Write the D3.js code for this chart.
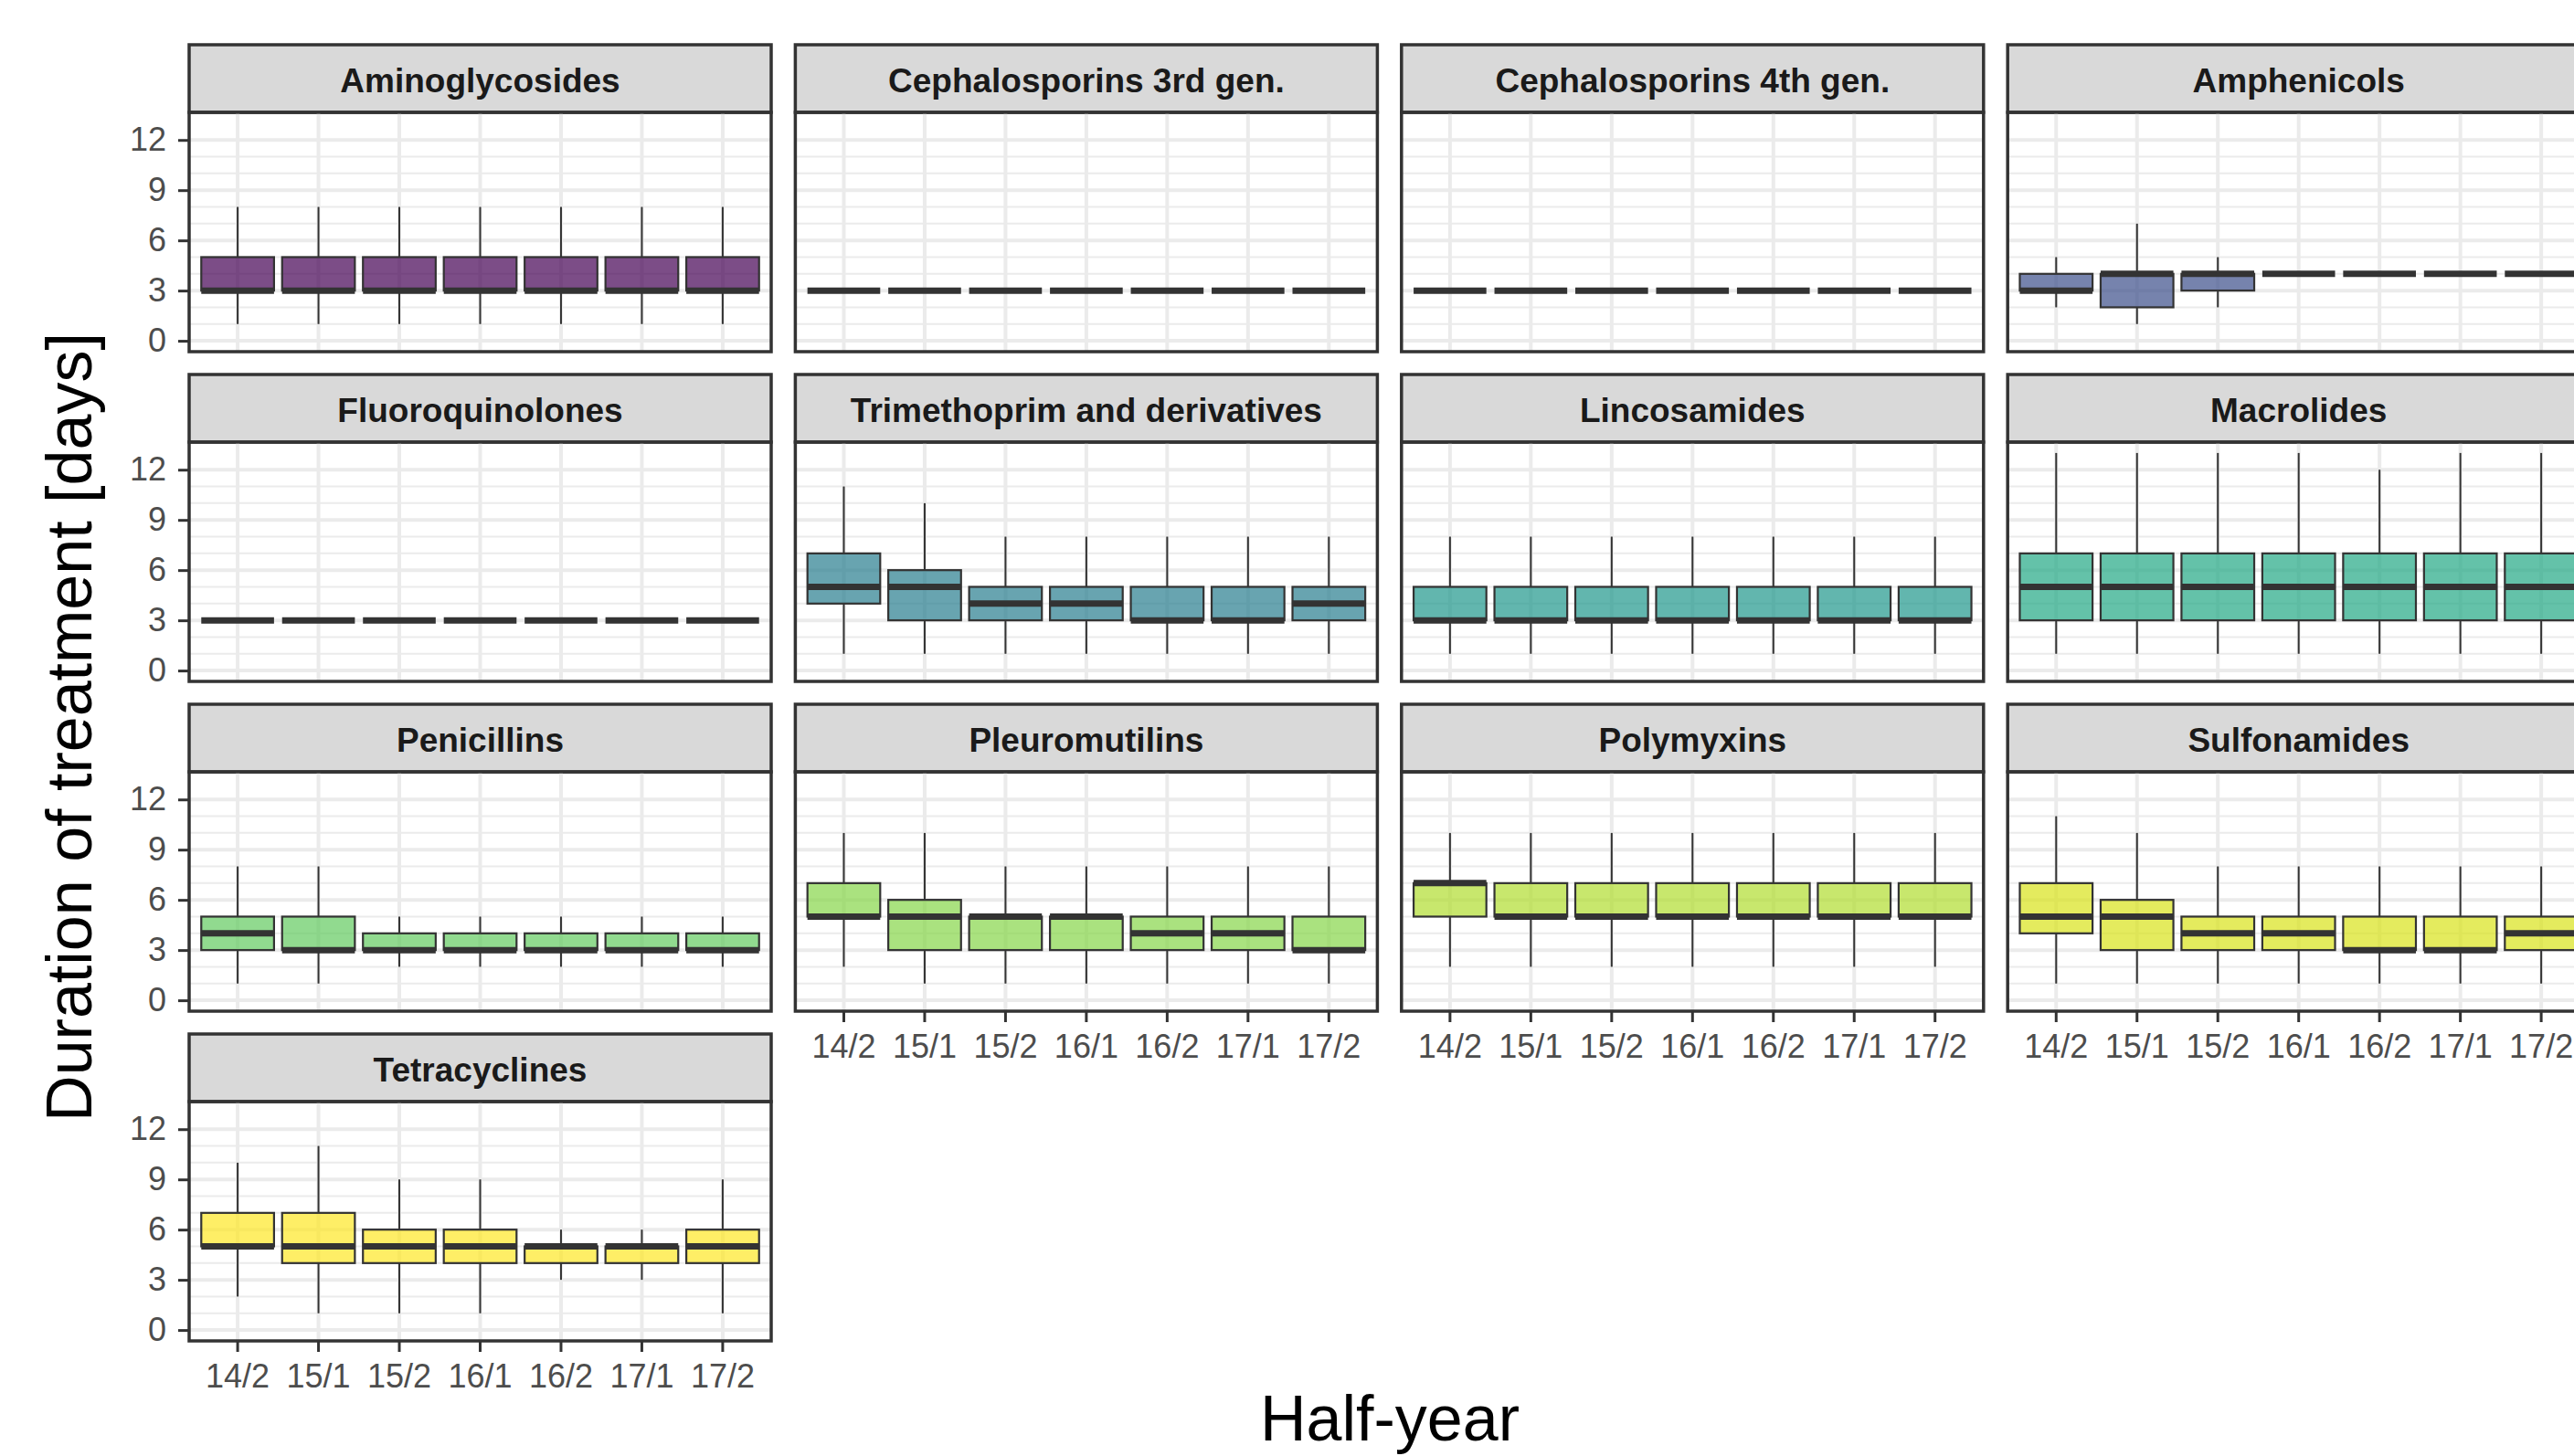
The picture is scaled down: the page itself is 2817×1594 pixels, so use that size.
<!DOCTYPE html>
<html>
<head>
<meta charset="utf-8">
<script src="https://cdn.jsdelivr.net/npm/d3@7"></script>
<style>
  html, body { margin: 0; padding: 0; background: #fff; overflow: hidden; }
  svg { display: block; font-family: "Liberation Sans", Arial, sans-serif; }
</style>
</head>
<body>
<div id="chart"></div>
<script>
const halfYears = ['14/2', '15/1', '15/2', '16/1', '16/2', '17/1', '17/2'];

const drugClasses = [
    'Aminoglycosides', 'Cephalosporins 3rd gen.', 'Cephalosporins 4th gen.', 'Amphenicols',
    'Fluoroquinolones', 'Trimethoprim and derivatives', 'Lincosamides', 'Macrolides',
    'Penicillins', 'Pleuromutilins', 'Polymyxins', 'Sulfonamides', 'Tetracyclines'
];

const yTicks = [0, 3, 6, 9, 12];
const yMinorTicks = [1, 2, 4, 5, 7, 8, 10, 11];

// one row per half-year: [lower whisker, q1, median, q3, upper whisker]
const aminoglycosides = [[1, 3, 3, 5, 8], [1, 3, 3, 5, 8], [1, 3, 3, 5, 8], [1, 3, 3, 5, 8], [1, 3, 3, 5, 8], [1, 3, 3, 5, 8], [1, 3, 3, 5, 8]];
const cephalosporins3rd = [[3, 3, 3, 3, 3], [3, 3, 3, 3, 3], [3, 3, 3, 3, 3], [3, 3, 3, 3, 3], [3, 3, 3, 3, 3], [3, 3, 3, 3, 3], [3, 3, 3, 3, 3]];
const cephalosporins4th = [[3, 3, 3, 3, 3], [3, 3, 3, 3, 3], [3, 3, 3, 3, 3], [3, 3, 3, 3, 3], [3, 3, 3, 3, 3], [3, 3, 3, 3, 3], [3, 3, 3, 3, 3]];
const amphenicols = [[2, 3, 3, 4, 5], [1, 2, 4, 4, 7], [2, 3, 4, 4, 5], [4, 4, 4, 4, 4], [4, 4, 4, 4, 4], [4, 4, 4, 4, 4], [4, 4, 4, 4, 4]];
const fluoroquinolones = [[3, 3, 3, 3, 3], [3, 3, 3, 3, 3], [3, 3, 3, 3, 3], [3, 3, 3, 3, 3], [3, 3, 3, 3, 3], [3, 3, 3, 3, 3], [3, 3, 3, 3, 3]];
const trimethoprim = [[1, 4, 5, 7, 11], [1, 3, 5, 6, 10], [1, 3, 4, 5, 8], [1, 3, 4, 5, 8], [1, 3, 3, 5, 8], [1, 3, 3, 5, 8], [1, 3, 4, 5, 8]];
const lincosamides = [[1, 3, 3, 5, 8], [1, 3, 3, 5, 8], [1, 3, 3, 5, 8], [1, 3, 3, 5, 8], [1, 3, 3, 5, 8], [1, 3, 3, 5, 8], [1, 3, 3, 5, 8]];
const macrolides = [[1, 3, 5, 7, 13], [1, 3, 5, 7, 13], [1, 3, 5, 7, 13], [1, 3, 5, 7, 13], [1, 3, 5, 7, 12], [1, 3, 5, 7, 13], [1, 3, 5, 7, 13]];
const penicillins = [[1, 3, 4, 5, 8], [1, 3, 3, 5, 8], [2, 3, 3, 4, 5], [2, 3, 3, 4, 5], [2, 3, 3, 4, 5], [2, 3, 3, 4, 5], [2, 3, 3, 4, 5]];
const pleuromutilins = [[2, 5, 5, 7, 10], [1, 3, 5, 6, 10], [1, 3, 5, 5, 8], [1, 3, 5, 5, 8], [1, 3, 4, 5, 8], [1, 3, 4, 5, 8], [1, 3, 3, 5, 8]];
const polymyxins = [[2, 5, 7, 7, 10], [2, 5, 5, 7, 10], [2, 5, 5, 7, 10], [2, 5, 5, 7, 10], [2, 5, 5, 7, 10], [2, 5, 5, 7, 10], [2, 5, 5, 7, 10]];
const sulfonamides = [[1, 4, 5, 7, 11], [1, 3, 5, 6, 10], [1, 3, 4, 5, 8], [1, 3, 4, 5, 8], [1, 3, 3, 5, 8], [1, 3, 3, 5, 8], [1, 3, 4, 5, 8]];
const tetracyclines = [[2, 5, 5, 7, 10], [1, 4, 5, 7, 11], [1, 4, 5, 6, 9], [1, 4, 5, 6, 9], [3, 4, 5, 5, 6], [3, 4, 5, 5, 6], [1, 4, 5, 6, 9]];

const classStats = [
    aminoglycosides, cephalosporins3rd, cephalosporins4th, amphenicols,
    fluoroquinolones, trimethoprim, lincosamides, macrolides,
    penicillins, pleuromutilins, polymyxins, sulfonamides, tetracyclines
];

const VIRIDIS_POS = [0, 0.08, 0.16, 0.24, 0.33, 0.42, 0.53, 0.6, 0.76, 0.82, 0.88, 0.94, 1];

const LAYOUT = {
    width: 2817, height: 1594,
    cols: 4,
    panelX0: 207, colStep: 663.4, panelW: 637,
    rowY0: 49, rowStep: 361, stripH: 74, panelH: 262
};

class FacetBoxplot {
    constructor(container) {
        this.container = container;
        this.nCols = LAYOUT.cols;

        this.x = d3.scaleBand()
            .domain(halfYears)
            .range([0, LAYOUT.panelW])
            .paddingInner(0.1)
            .paddingOuter(0.15);

        this.y = d3.scaleLinear()
            .domain([-0.65, 13.65])
            .range([LAYOUT.panelH, 0]);

        this.color = i => d3.interpolateViridis(VIRIDIS_POS[i]);

        this.svg = d3.select(this.container)
            .append('svg')
            .attr('width', LAYOUT.width)
            .attr('height', LAYOUT.height);

        drugClasses.forEach((name, i) => this.drawPanel(name, i));
        this.drawTitles();
    }

    drawPanel(name, i) {
        const col = i % this.nCols;
        const row = Math.floor(i / this.nCols);
        const left = LAYOUT.panelX0 + col * LAYOUT.colStep;
        const top = LAYOUT.rowY0 + row * LAYOUT.rowStep;
        const x = this.x, y = this.y;

        const strip = this.svg.append('g').attr('transform', `translate(${left},${top})`);
        strip.append('rect')
            .attr('width', LAYOUT.panelW)
            .attr('height', LAYOUT.stripH)
            .attr('fill', '#d9d9d9')
            .attr('stroke', '#333333')
            .attr('stroke-width', 3.5);
        strip.append('text')
            .attr('x', LAYOUT.panelW / 2)
            .attr('y', 52)
            .attr('text-anchor', 'middle')
            .attr('font-size', 37)
            .attr('font-weight', 'bold')
            .attr('fill', '#1a1a1a')
            .text(name);

        const g = this.svg.append('g')
            .attr('transform', `translate(${left},${top + LAYOUT.stripH})`);

        // 格線
        g.selectAll('.minor')
            .data(yMinorTicks)
            .join('line')
            .attr('x1', 0).attr('x2', LAYOUT.panelW)
            .attr('y1', d => y(d)).attr('y2', d => y(d))
            .attr('stroke', '#ebebeb')
            .attr('stroke-width', 2);
        g.selectAll('.major-y')
            .data(yTicks)
            .join('line')
            .attr('x1', 0).attr('x2', LAYOUT.panelW)
            .attr('y1', d => y(d)).attr('y2', d => y(d))
            .attr('stroke', '#ebebeb')
            .attr('stroke-width', 4);
        g.selectAll('.major-x')
            .data(halfYears)
            .join('line')
            .attr('x1', d => x(d) + x.bandwidth() / 2).attr('x2', d => x(d) + x.bandwidth() / 2)
            .attr('y1', 0).attr('y2', LAYOUT.panelH)
            .attr('stroke', '#ebebeb')
            .attr('stroke-width', 4);

        // 箱形圖
        const data = classStats[i].map((s, j) => ({
            half: halfYears[j], lo: s[0], q1: s[1], med: s[2], q3: s[3], hi: s[4]
        }));
        const boxes = g.selectAll('.box')
            .data(data)
            .join('g')
            .attr('transform', d => `translate(${x(d.half)},0)`);
        const cx = x.bandwidth() / 2;

        boxes.append('line')
            .attr('x1', cx).attr('x2', cx)
            .attr('y1', d => y(d.q3)).attr('y2', d => y(d.hi))
            .attr('stroke', '#333333').attr('stroke-width', 2);
        boxes.append('line')
            .attr('x1', cx).attr('x2', cx)
            .attr('y1', d => y(d.q1)).attr('y2', d => y(d.lo))
            .attr('stroke', '#333333').attr('stroke-width', 2);
        boxes.append('rect')
            .attr('x', 0)
            .attr('width', x.bandwidth())
            .attr('y', d => y(d.q3))
            .attr('height', d => y(d.q1) - y(d.q3))
            .attr('fill', this.color(i))
            .attr('fill-opacity', 0.7)
            .attr('stroke', '#333333')
            .attr('stroke-width', 2.2);
        boxes.append('line')
            .attr('x1', 0).attr('x2', x.bandwidth())
            .attr('y1', d => y(d.med)).attr('y2', d => y(d.med))
            .attr('stroke', '#333333')
            .attr('stroke-width', 7);

        g.append('rect')
            .attr('width', LAYOUT.panelW)
            .attr('height', LAYOUT.panelH)
            .attr('fill', 'none')
            .attr('stroke', '#333333')
            .attr('stroke-width', 3.5);

        if (col === 0) {
            const yAxis = d3.axisLeft(y).tickValues(yTicks).tickSize(12).tickPadding(13);
            this.styleAxis(g.append('g').call(yAxis));
        }
        // 最後一列才畫 x 軸
        const lastInCol = i + this.nCols >= drugClasses.length;
        if (lastInCol) {
            const xAxis = d3.axisBottom(x).tickSize(12).tickPadding(13);
            this.styleAxis(g.append('g')
                .attr('transform', `translate(0,${LAYOUT.panelH})`)
                .call(xAxis));
        }
    }

    styleAxis(axisG) {
        axisG.select('.domain').remove();
        axisG.selectAll('.tick line')
            .attr('stroke', '#333333')
            .attr('stroke-width', 3);
        axisG.selectAll('.tick text')
            .attr('fill', '#4d4d4d')
            .attr('font-size', 36)
            .attr('font-family', '"Liberation Sans", Arial, sans-serif');
    }

    drawTitles() {
        this.svg.append('text')
            .attr('transform', 'translate(100,796) rotate(-90)')
            .attr('text-anchor', 'middle')
            .attr('font-size', 70)
            .attr('fill', '#000')
            .text('Duration of treatment [days]');

        this.svg.append('text')
            .attr('x', 1521)
            .attr('y', 1577)
            .attr('text-anchor', 'middle')
            .attr('font-size', 70)
            .attr('fill', '#000')
            .text('Half-year');
    }
}

new FacetBoxplot('#chart');
</script>
</body>
</html>
